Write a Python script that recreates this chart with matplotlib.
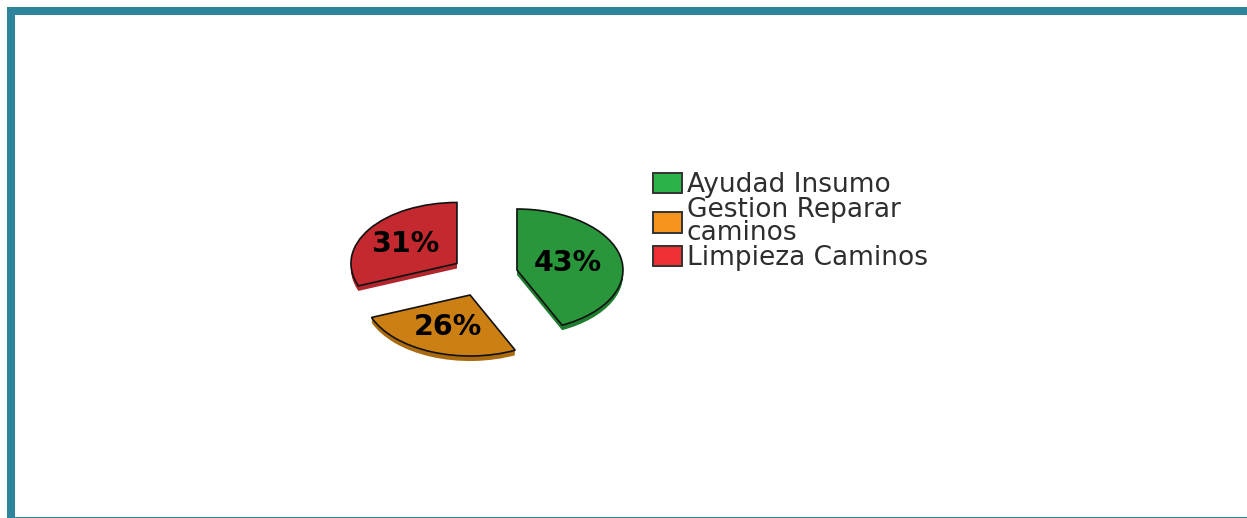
import matplotlib
matplotlib.use("Agg")
import matplotlib.pyplot as plt
from matplotlib.patches import Patch, Rectangle

labels = ["Ayudad Insumo", "Gestion Reparar\ncaminos", "Limpieza Caminos"]
values = [43, 26, 31]
explode = [0.315, 0.367, 0.313]
top_colors = ["#2a963c", "#cc8014", "#c4292f"]
side_colors = ["#1f7d30", "#a96a10", "#b0262c"]
legend_colors = ["#2bb34a", "#f7941d", "#ee3035"]

W, H = 1247, 518
cx, cy = 484.4, 274.2
rx, ry = 106, 61
depth = 5

fig = plt.figure(figsize=(W / 100, H / 100), dpi=100, facecolor="white")
ax = fig.add_axes([0, 0, 1, 1])

# extruded side, stacked from the bottom up
for d in range(depth, 0, -1):
    ax.pie(values, explode=explode, colors=side_colors, startangle=90, counterclock=False,
           center=(0, -d / ry), radius=1, wedgeprops={"edgecolor": "none"})

wedges, _, pcts = ax.pie(values, explode=explode, colors=top_colors, startangle=90,
                         counterclock=False, autopct="%.0f%%", pctdistance=0.56,
                         wedgeprops={"edgecolor": "#111111", "linewidth": 1.2})
for t in pcts:
    t.set(fontsize=20.5, fontweight="bold", color="black", family="DejaVu Sans")

# nudge the two labels that sit off the mid angle
pcts[0].set_x(pcts[0].get_position()[0] - 7 / rx)
pcts[2].set_x(pcts[2].get_position()[0] - 3 / rx)

ax.set_aspect("auto")
ax.set_xlim(-cx / rx, (W - cx) / rx)
ax.set_ylim(-(H - cy) / ry, cy / ry)
ax.axis("off")

handles = [Patch(facecolor=c, edgecolor="#333333", linewidth=1.4) for c in legend_colors]
leg = fig.legend(handles, labels, loc="upper left", bbox_to_anchor=(653 / W, 1 - 172 / H),
                 frameon=False, prop={"family": "DejaVu Sans", "size": 19}, labelcolor="#2e2e2e",
                 handlelength=1.08, handleheight=0.82, handletextpad=0.2,
                 labelspacing=-0.04, borderpad=0, borderaxespad=0)
for t in leg.get_texts():
    t.set_linespacing(0.86)

# page frame
frame = "#2e849c"
fig.add_artist(Rectangle((7 / W, 0), 8 / W, 1 - 7 / H, transform=fig.transFigure, color=frame, lw=0))
fig.add_artist(Rectangle((7 / W, 1 - 15 / H), 1, 8 / H, transform=fig.transFigure, color=frame, lw=0))
fig.add_artist(Rectangle((7 / W, 0), 1, 1.5 / H, transform=fig.transFigure, color=frame, lw=0))

fig.savefig("out.png", dpi=100)
